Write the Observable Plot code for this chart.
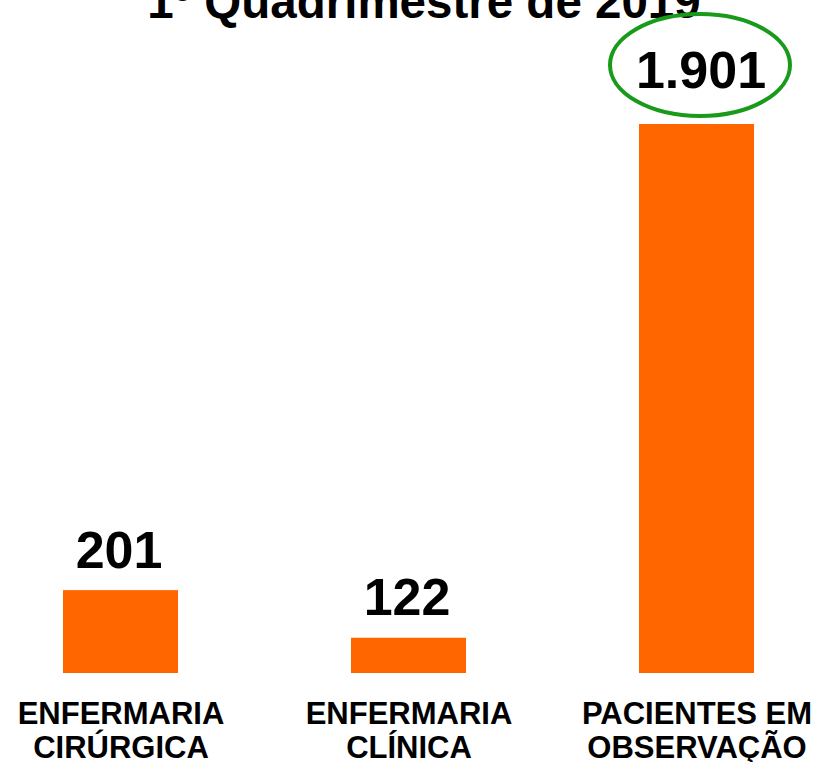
<!DOCTYPE html>
<html>
<head>
<meta charset="utf-8">
<script src="https://cdn.jsdelivr.net/npm/d3@7"></script>
<script src="https://cdn.jsdelivr.net/npm/@observablehq/plot@0.6"></script>
<style>
  html, body { margin: 0; padding: 0; background: #ffffff; }
  #chart svg { display: block; font-family: "Liberation Sans", Arial, sans-serif; }
</style>
</head>
<body>
<div id="chart"></div>
<script>
// Data
const categories = ["ENFERMARIA\nCIRÚRGICA", "ENFERMARIA\nCLÍNICA", "PACIENTES EM\nOBSERVAÇÃO"];
const barHeights = [287, 122, 1901];          // drawn bar heights as they appear
const valueLabels = ["201", "122", "1.901"];   // printed value labels
const highlighted = [false, false, true];
const title = "1º Quadrimestre de 2019";

const data = categories.map((c, i) => ({cat: c, value: barHeights[i], label: valueLabels[i], hi: highlighted[i]}));

const font = '"Liberation Sans", Arial, sans-serif';

const plot = Plot.plot({
  width: 820,
  height: 762,
  marginLeft: 62,
  marginRight: 65,
  marginTop: 124,
  marginBottom: 89,
  style: {fontFamily: font, background: "#ffffff", overflow: "visible"},
  x: {domain: categories, paddingInner: 0.602, paddingOuter: 0, axis: null},
  y: {domain: [0, 1901], axis: null},
  marks: [
    Plot.barY(data, {x: "cat", y: "value", fill: "#FF6600"}),
    Plot.text(data.filter(d => !d.hi), {x: "cat", y: "value", text: "label", dy: -23, dx: -2, lineAnchor: "bottom",
      fontSize: 52, fontWeight: "bold", fill: "#000"}),
    Plot.text(data.filter(d => d.hi), {x: "cat", y: "value", text: "label", dy: -37, dx: 4, lineAnchor: "bottom",
      fontSize: 52, fontWeight: "bold", fill: "#000"}),
    Plot.text(data, {x: "cat", text: "cat", frameAnchor: "bottom", lineAnchor: "top", dy: 26,
      fontSize: 31, fontWeight: "bold", lineHeight: 1.1, fill: "#000"}),
    Plot.text([title], {frameAnchor: "top", dx: 15, dy: -107, lineAnchor: "bottom",
      fontSize: 47.5, fontWeight: "bold", fill: "#000"})
  ]
});

// Green ellipse annotation around the highlighted value, placed with the plot's scales
const xs = plot.scale("x"), ys = plot.scale("y");
const bw = xs.bandwidth;
const svg = d3.select(plot);
data.filter(d => d.hi).forEach(d => {
  const cx = xs.apply(d.cat) + bw / 2 + 3.5;
  const cy = ys.apply(d.value) - 59;
  svg.append("ellipse")
    .attr("cx", cx).attr("cy", cy)
    .attr("rx", 90).attr("ry", 51)
    .attr("fill", "none").attr("stroke", "#1A9A1A").attr("stroke-width", 4);
});

document.getElementById("chart").appendChild(plot);
</script>
</body>
</html>
